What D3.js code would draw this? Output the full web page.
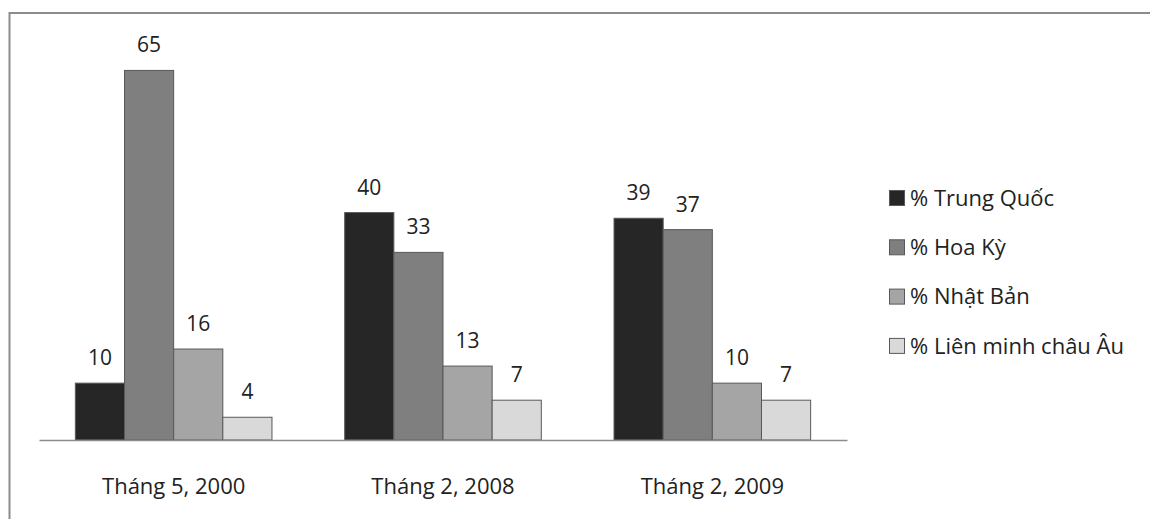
<!DOCTYPE html>
<html lang="vi">
<head>
    <meta charset="UTF-8">
    <title>Tỷ trọng</title>
    <script src="https://d3js.org/d3.v7.min.js"></script>
    <style>
        body { margin: 0; background: #fff; }
        svg { display: block; font-family: "Open Sans", "DejaVu Sans", sans-serif; }
    </style>
</head>
<body>
    <div id="chart"></div>
    <script>
        // data
        const categories = ['Tháng 5, 2000', 'Tháng 2, 2008', 'Tháng 2, 2009'];
        const seriesNames = ['% Trung Quốc', '% Hoa Kỳ', '% Nhật Bản', '% Liên minh châu Âu'];
        const trungQuoc = [10, 40, 39];
        const hoaKy = [65, 33, 37];
        const nhatBan = [16, 13, 10];
        const lienMinh = [4, 7, 7];
        const seriesValues = [trungQuoc, hoaKy, nhatBan, lienMinh];
        const colors = ['#262626', '#7f7f7f', '#a5a5a5', '#d9d9d9'];

        const width = 1150, height = 519;
        const plot = { left: 39, right: 847, top: 42, bottom: 440 };

        const svg = d3.select('#chart').append('svg')
            .attr('width', width)
            .attr('height', height);

        // outer frame (only top and left visible in the picture)
        svg.append('rect')
            .attr('x', 9.5).attr('y', 13)
            .attr('width', width + 20).attr('height', height + 20)
            .attr('fill', 'none')
            .attr('stroke', '#8c8c8c')
            .attr('stroke-width', 2);

        const x0 = d3.scaleBand()
            .domain(categories)
            .range([plot.left, plot.right])
            .paddingInner(0.27)
            .paddingOuter(0.135);

        const x1 = d3.scaleBand()
            .domain(seriesNames)
            .range([0, x0.bandwidth()]);

        const y = d3.scaleLinear()
            .domain([0, 70])
            .range([plot.bottom, plot.top]);

        const groups = svg.selectAll('g.group')
            .data(categories)
            .join('g')
            .attr('class', 'group')
            .attr('transform', d => `translate(${x0(d)},0)`);

        groups.selectAll('rect')
            .data((c, ci) => seriesNames.map((s, si) => ({ s, si, v: seriesValues[si][ci] })))
            .join('rect')
            .attr('x', d => x1(d.s))
            .attr('y', d => y(d.v))
            .attr('width', x1.bandwidth())
            .attr('height', d => y(0) - y(d.v))
            .attr('fill', d => colors[d.si])
            .attr('stroke', '#595959')
            .attr('stroke-width', 1);

        groups.selectAll('text')
            .data((c, ci) => seriesNames.map((s, si) => ({ s, si, v: seriesValues[si][ci] })))
            .join('text')
            .attr('x', d => x1(d.s) + x1.bandwidth() / 2)
            .attr('y', d => y(d.v) - 18)
            .attr('text-anchor', 'middle')
            .attr('font-size', 21)
            .attr('fill', '#222')
            .text(d => d.v);

        // category axis
        const xAxis = svg.append('g')
            .attr('transform', `translate(0,${plot.bottom})`)
            .call(d3.axisBottom(x0).tickSize(0).tickPadding(38).tickSizeOuter(0));
        xAxis.select('.domain').attr('stroke', '#8c8c8c').attr('stroke-width', 1.5);
        xAxis.selectAll('text')
            .attr('font-size', 22)
            .attr('fill', '#222')
            .attr('font-family', '"Open Sans", sans-serif');

        // legend
        const legend = svg.append('g')
            .attr('transform', 'translate(889,198)');
        const items = legend.selectAll('g')
            .data(seriesNames)
            .join('g')
            .attr('transform', (d, i) => `translate(0,${i * 49.3})`);
        items.append('rect')
            .attr('x', 0.5).attr('y', -7.5)
            .attr('width', 15).attr('height', 15)
            .attr('fill', (d, i) => colors[i])
            .attr('stroke', '#595959');
        items.append('text')
            .attr('x', 21)
            .attr('y', 0)
            .attr('dy', '0.35em')
            .attr('font-size', 22)
            .attr('fill', '#222')
            .text(d => d);
    </script>
</body>
</html>
